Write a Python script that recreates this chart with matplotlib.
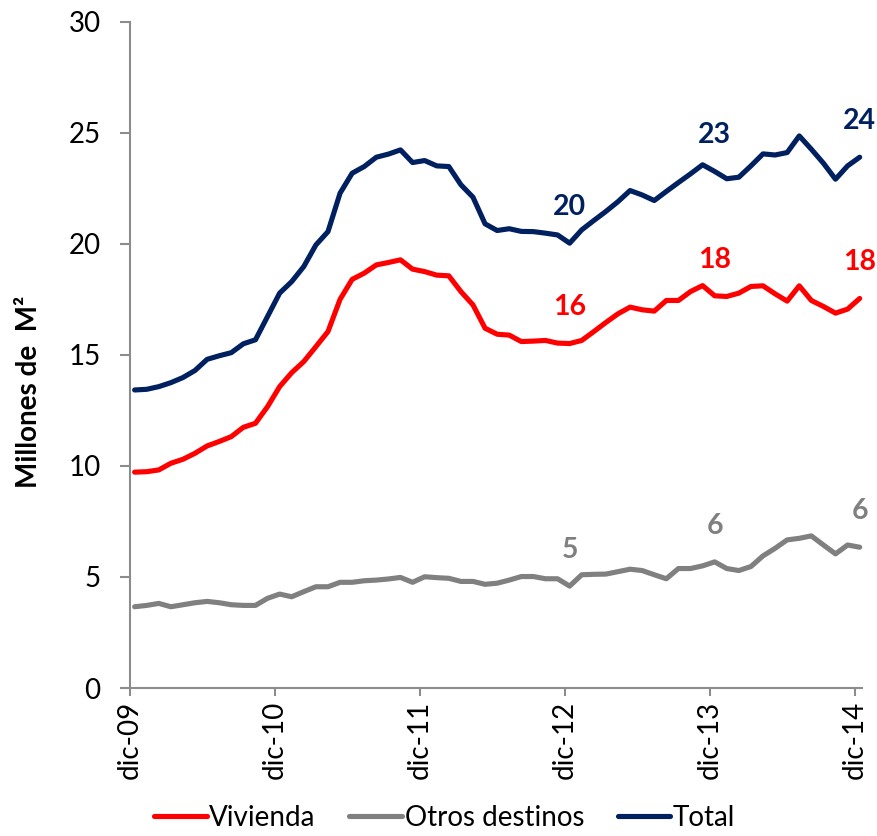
import numpy as np
import matplotlib as mpl
import matplotlib.pyplot as plt

mpl.use('Agg')

# -------------------------------------------------------------------------
# data, monthly from dic-09 to dic-14 (millones de m2)
# -------------------------------------------------------------------------
tick_labels = ['dic-09', 'dic-10', 'dic-11', 'dic-12', 'dic-13', 'dic-14']

vivienda = [9.72, 9.74, 9.82, 10.12, 10.3, 10.57, 10.9, 11.1, 11.32, 11.74, 11.92,
            12.67, 13.57, 14.2, 14.7, 15.37, 16.05, 17.5, 18.4, 18.68, 19.05,
            19.16, 19.28, 18.86, 18.75, 18.59, 18.56, 17.85, 17.25, 16.2, 15.93,
            15.89, 15.6, 15.62, 15.65, 15.53, 15.51, 15.65, 16.05, 16.46, 16.85,
            17.15, 17.03, 16.97, 17.45, 17.45, 17.85, 18.12, 17.66, 17.63, 17.78,
            18.08, 18.11, 17.75, 17.42, 18.11, 17.45, 17.18, 16.88, 17.06, 17.54]

otros = [3.66, 3.72, 3.81, 3.66, 3.75, 3.84, 3.9, 3.84, 3.75, 3.72, 3.72,
         4.04, 4.23, 4.11, 4.34, 4.56, 4.56, 4.76, 4.76, 4.83, 4.86,
         4.91, 4.98, 4.76, 5.01, 4.97, 4.94, 4.8, 4.8, 4.67, 4.72,
         4.86, 5.02, 5.02, 4.92, 4.92, 4.59, 5.1, 5.12, 5.13, 5.24,
         5.35, 5.29, 5.1, 4.92, 5.38, 5.38, 5.5, 5.68, 5.38, 5.29,
         5.47, 5.95, 6.29, 6.67, 6.74, 6.85, 6.44, 6.04, 6.44, 6.34]

total = [13.42, 13.45, 13.57, 13.75, 13.98, 14.3, 14.8, 14.96, 15.1, 15.5, 15.68,
         16.73, 17.78, 18.3, 18.98, 19.95, 20.55, 22.28, 23.18, 23.48, 23.9,
         24.04, 24.23, 23.66, 23.75, 23.51, 23.48, 22.66, 22.1, 20.9, 20.6,
         20.68, 20.56, 20.55, 20.48, 20.4, 20.03, 20.63, 21.05, 21.46, 21.9,
         22.4, 22.2, 21.95, 22.36, 22.76, 23.15, 23.56, 23.26, 22.93, 23.0,
         23.51, 24.05, 24.0, 24.11, 24.86, 24.26, 23.63, 22.91, 23.51, 23.9]

# months that get a value label (dic-12, dic-13, dic-14)
label_idx = [36, 48, 60]

RED = '#FF0000'
GREY = '#808080'
NAVY = '#002060'
AXIS = '#8C8C8C'

plt.rcParams['font.family'] = ['Lato', 'DejaVu Sans']

fig = plt.figure(figsize=(8.77, 8.36), dpi=100)
ax = fig.add_axes([0.148, 0.177, 0.835, 0.797])

# points sit a bit after the tick of their month
x = np.arange(len(total)) + 0.4

series = [(vivienda, RED, 'Vivienda'),
          (otros, GREY, 'Otros destinos'),
          (total, NAVY, 'Total')]

for vals, col, name in series:
    ax.plot(x, vals, color=col, lw=3.7, label=name,
            solid_joinstyle='round', solid_capstyle='round', clip_on=False)
    for i in label_idx:
        ax.annotate(f'{vals[i]:.0f}', (x[i], vals[i]), xytext=(0, 26),
                    textcoords='offset points', ha='center', va='center',
                    color=col, fontsize=20.5, fontweight='bold')

ax.set_xlim(0, 60.6)
ax.set_ylim(0, 30)
ax.set_xticks(np.arange(0, 61, 12))
ax.set_xticklabels(tick_labels, rotation=90)
ax.set_yticks(np.arange(0, 31, 5))

for s in ['top', 'right']:
    ax.spines[s].set_visible(False)
for s in ['left', 'bottom']:
    ax.spines[s].set_color(AXIS)
    ax.spines[s].set_linewidth(1.5)

ax.tick_params(axis='y', direction='out', length=7, width=1.5, color=AXIS,
               labelsize=20, pad=14)
ax.tick_params(axis='x', direction='out', length=6, width=1.5, color=AXIS,
               labelsize=20, pad=3)

fig.text(29 / 877, 1 - 392 / 836, 'Millones de  M²', rotation=90,
         ha='center', va='center', fontsize=20, fontweight='bold')

fig.legend(loc='lower center', bbox_to_anchor=(0.507, -0.024), ncol=3,
           frameon=False, fontsize=20, handlelength=1.9, handletextpad=0.1,
           columnspacing=1.2)

plt.savefig('out.png', dpi=100)
plt.close(fig)
